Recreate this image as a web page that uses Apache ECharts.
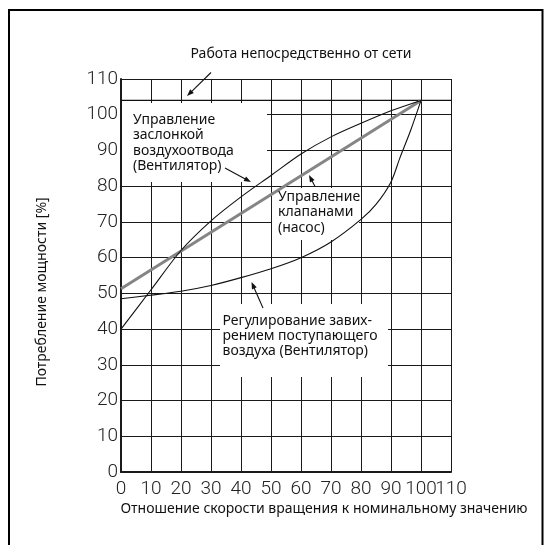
<!DOCTYPE html>
<html><head><meta charset="utf-8">
<script src="https://cdn.jsdelivr.net/npm/echarts@6/dist/echarts.min.js"></script>
<style>html,body{margin:0;padding:0;background:#fff}#c{width:551px;height:545px}</style>
</head><body><div id="c"></div>
<script>
// ---- data ----
const xTicks = [0, 10, 20, 30, 40, 50, 60, 70, 80, 90, 100, 110];
const yTicks = [0, 10, 20, 30, 40, 50, 60, 70, 80, 90, 100, 110];
const directX = [0, 110];
const directY = [104, 104];
const damperX = [0, 10, 20, 30, 40, 50, 60, 70, 80, 90, 100];
const damperY = [40, 51, 62, 70.3, 77, 83, 89, 93.8, 97.6, 101.1, 104];
const valveX = [0, 100];
const valveY = [51.3, 104];
const swirlX = [0, 10, 20, 30, 40, 50, 60, 70, 80, 85, 90, 93, 96.5, 100];
const swirlY = [48.5, 49.5, 50.6, 52.2, 54.4, 56.9, 60, 64.4, 70.7, 74.9, 81.2, 88, 95.5, 104];

const titleText = 'Работа непосредственно от сети';
const xName = 'Отношение скорости вращения к номинальному значению';
const yName = 'Потребление мощности [%]';
const label1 = 'Управление\nзаслонкой\nвоздухоотвода\n(Вентилятор)';
const label2 = 'Управление\nклапанами\n(насос)';
const label3 = 'Регулирование завих-\nрением поступающего\nвоздуха (Вентилятор)';

const zip = (a, b) => a.map((v, i) => [v, b[i]]);

const TXT = 'Noto Sans';
const TICKFONT = 'Roboto';

function arrow(x1, y1, x2, y2) {
  const dx = x2 - x1, dy = y2 - y1, L = Math.hypot(dx, dy);
  const ux = dx / L, uy = dy / L, px = -uy, py = ux;
  const len = 7, w = 2.6;
  const bx = x2 - ux * len, by = y2 - uy * len;
  return [
    { type: 'line', z: 5, shape: { x1: x1, y1: y1, x2: bx + ux * 1, y2: by + uy * 1 }, style: { stroke: '#111', lineWidth: 1.1 } },
    { type: 'polygon', z: 5, shape: { points: [[x2, y2], [bx + px * w, by + py * w], [bx - px * w, by - py * w]] }, style: { fill: '#111' } }
  ];
}

const chart = echarts.init(document.getElementById('c'), null, { renderer: 'canvas' });

const graphics = [
  { type: 'polyline', z: 5, shape: { points: [[9, 547], [9, 10], [542.5, 10], [542.5, 547]] }, style: { stroke: '#000', lineWidth: 2, fill: null } },
  { type: 'text', z: 5, style: { x: 301, y: 54, text: titleText, fontFamily: TXT, fontSize: 14, fill: '#111', align: 'center', verticalAlign: 'middle' } },
  { type: 'text', z: 5, style: { x: 324, y: 509, text: xName, fontFamily: TXT, fontSize: 14, fill: '#111', align: 'center', verticalAlign: 'middle' } },
  { type: 'text', z: 5, x: 42, y: 292, rotation: Math.PI / 2, style: { x: 0, y: 0, text: yName, fontFamily: TXT, fontSize: 14, fill: '#111', align: 'center', verticalAlign: 'middle' } },
  // white label boxes
  { type: 'rect', z: 1, shape: { x: 122, y: 103, width: 145, height: 79 }, style: { fill: '#fff' } },
  { type: 'rect', z: 1, shape: { x: 272, y: 188, width: 87, height: 52 }, style: { fill: '#fff' } },
  { type: 'rect', z: 1, shape: { x: 220, y: 304, width: 168, height: 73 }, style: { fill: '#fff' } },
  { type: 'text', z: 5, style: { x: 133, y: 112, text: label1, fontFamily: TXT, fontSize: 14, lineHeight: 15.5, fill: '#111', align: 'left', verticalAlign: 'top' } },
  { type: 'text', z: 5, style: { x: 278, y: 189, text: label2, fontFamily: TXT, fontSize: 14, lineHeight: 15.6, fill: '#111', align: 'left', verticalAlign: 'top' } },
  { type: 'text', z: 5, style: { x: 222.5, y: 314, text: label3, fontFamily: TXT, fontSize: 14, lineHeight: 15, fill: '#111', align: 'left', verticalAlign: 'top' } }
].concat(arrow(211, 72.5, 187, 96), arrow(225, 168, 251, 182), arrow(315, 186.5, 309, 175), arrow(263, 308, 251.5, 282));

const axisCommon = {
  type: 'value', min: 0, max: 110, interval: 10,
  axisTick: { show: false },
  splitLine: { show: true, showMinLine: true, showMaxLine: true, lineStyle: { color: '#1a1a1a', width: 1 } },
  axisLine: { show: true, onZero: false, lineStyle: { color: '#1a1a1a', width: 2 } }
};
const tickLabel = { fontFamily: TICKFONT, fontWeight: 300, fontSize: 19, color: '#222' };

chart.setOption({
  animation: false,
  backgroundColor: '#fff',
  grid: { left: 121, right: 100, top: 79, bottom: 73, containLabel: false },
  xAxis: [
    Object.assign({}, axisCommon, {
      axisLabel: Object.assign({ margin: 8, showMinLabel: true, showMaxLabel: false,
        formatter: v => String(xTicks[xTicks.indexOf(v)]) }, tickLabel)
    }),
    // overlay axis carrying only the last tick label (it overlaps "100" in the original)
    { type: 'value', min: 0, max: 110, interval: 10, position: 'bottom',
      axisLine: { show: false }, axisTick: { show: false }, splitLine: { show: false },
      axisLabel: Object.assign({ margin: 8, showMinLabel: false, showMaxLabel: true,
        formatter: v => (v === xTicks[xTicks.length - 1] ? String(v) : '') }, tickLabel)
    }
  ],
  yAxis: Object.assign({}, axisCommon, {
    axisLabel: Object.assign({ margin: 3, showMinLabel: true, showMaxLabel: true,
      formatter: v => String(yTicks[yTicks.indexOf(v)]) }, tickLabel)
  }),
  graphic: graphics,
  series: [
    { type: 'line', data: zip(directX, directY), symbol: 'none', lineStyle: { color: '#111', width: 1.2 }, z: 2 },
    { type: 'line', data: zip(valveX, valveY), symbol: 'none', lineStyle: { color: '#858585', width: 3 }, z: 3 },
    { type: 'line', data: zip(damperX, damperY), symbol: 'none', smooth: 0.3, lineStyle: { color: '#111', width: 1.1 }, z: 3 },
    { type: 'line', data: zip(swirlX, swirlY), symbol: 'none', smooth: 0.3, lineStyle: { color: '#111', width: 1.1 }, z: 3 }
  ]
});
</script>
</body></html>
